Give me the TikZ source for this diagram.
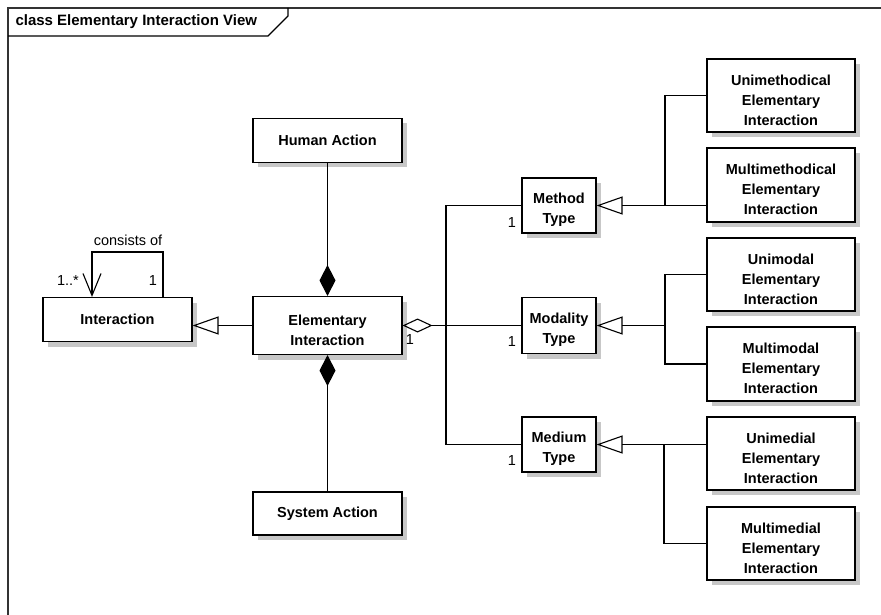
\documentclass[tikz,border=0pt]{standalone}
\usepackage{fontspec}
\setmainfont{Liberation Sans}
\usetikzlibrary{arrows.meta,shadows}
\newcommand{\toppad}{\rule{0pt}{20pt}}

\begin{document}
\begin{tikzpicture}[x=1pt, y=-1pt,
    every node/.style={font=\fontsize{14.5}{20}\selectfont},
    cls/.style={draw, line width=1.1pt, fill=white, align=center, inner sep=0pt,
      font=\fontsize{14.5}{20}\selectfont\bfseries, minimum width=149pt,
      drop shadow={shadow xshift=5pt, shadow yshift=-5pt, fill=black!22, opacity=1}},
    typ/.style={cls, minimum width=74pt, minimum height=55pt},
    sub/.style={cls, minimum width=148pt, minimum height=73pt},
    link/.style={line width=1.1pt},
    gen/.style={link, -{Triangle[open, length=26pt, width=18pt]}},
    comp/.style={link, {Diamond[length=31pt, width=16pt]}-},
    aggr/.style={link, {Diamond[open, length=30pt, width=14pt]}-}
  ]
  \useasboundingbox (0,0) rectangle (881,615);

  % frame
  \draw[line width=1.3pt, black!80] (8,615) -- (8,8) -- (881,8);
  \draw[line width=1.1pt] (8,36) -- (268,36) -- (288,16) -- (288,8);
  \node[anchor=west, font=\fontsize{15}{18}\selectfont\bfseries] (title) at (12,22)
    {class Elementary Interaction View};

  % central classes
  \node[cls, minimum height=44pt] (interaction) at (117.5,319.5) {Interaction};
  \node[cls, minimum height=58pt] (elem) at (327.5,325.5) {\toppad Elementary\\Interaction};
  \node[cls, minimum height=44pt] (human) at (327.5,140.5) {Human Action};
  \node[cls, minimum height=43pt] (system) at (327.5,513.5) {System Action};

  % types
  \node[typ] (method) at (559,205.5) {\toppad Method\\Type};
  \node[typ, minimum height=56pt] (modality) at (559,325.5) {\toppad Modality\\Type};
  \node[typ] (medium) at (559,444.5) {\toppad Medium\\Type};

  % subclasses
  \node[sub] (unimeth) at (781,95.5) {\toppad Unimethodical\\Elementary\\Interaction};
  \node[sub, minimum height=74pt] (multimeth) at (781,185) {\toppad Multimethodical\\Elementary\\Interaction};
  \node[sub] (unimodal) at (781,274.5) {\toppad Unimodal\\Elementary\\Interaction};
  \node[sub, minimum height=74pt] (multimodal) at (781,364) {\toppad Multimodal\\Elementary\\Interaction};
  \node[sub] (unimedial) at (781,453.5) {\toppad Unimedial\\Elementary\\Interaction};
  \node[sub] (multimedial) at (781,543.5) {\toppad Multimedial\\Elementary\\Interaction};

  % self association
  \coordinate (loopL) at (92,252);
  \coordinate (loopR) at (163,252);
  \draw[link, -{Straight Barb[length=22pt, width=18pt]}]
    (interaction.north -| loopR) -- (loopR) -- (loopL) -- (interaction.north -| loopL);
  \node (consists) at (128,240) {consists of};
  \node (lmany) at (68,281) {1..*};
  \node (lone) at (153,281) {1};

  % composition and generalization
  \draw[comp] (elem.north) -- (human.south);
  \draw[comp] (elem.south) -- (system.north);
  \draw[gen] (elem.west) -- (elem.west -| interaction.east);

  % aggregation
  \coordinate (hub) at (446,325.5);
  \draw[aggr] (elem.east) -- (modality.west);
  \draw[link] (method.west) -| (hub) |- (medium.west);
  \node (aone) at (410,340) {1};
  \node (mone) at (512,223) {1};
  \node (done) at (512,342) {1};
  \node (eone) at (512,461) {1};

  % method subtypes
  \coordinate (methj) at (665,205.5);
  \draw[gen] (unimeth.west) -| (methj) -- (method.east);
  \draw[link] (multimeth.west |- method.east) -- (methj);

  % modality subtypes
  \coordinate (modj) at (665,325.5);
  \draw[link] (unimodal.west) -| (modj) |- (multimodal.west);
  \draw[gen] (modj) -- (modality.east);

  % medium subtypes
  \coordinate (medj) at (664,444.5);
  \draw[gen] (unimedial.west |- medium.east) -- (medium.east);
  \draw[link] (medj) |- (multimedial.west);

\end{tikzpicture}
\end{document}
